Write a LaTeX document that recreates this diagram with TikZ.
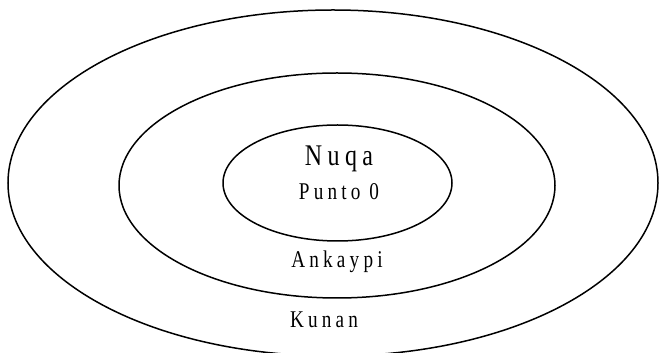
\documentclass[tikz,border=0pt]{standalone}
\usepackage{fontspec}
\setmainfont{Liberation Serif}[LetterSpace=17.5,FakeStretch=0.8]
\usepackage{tikz}

\begin{document}
\begin{tikzpicture}[x=1pt,y=1pt,line width=1.5pt,
  ringlabel/.style={anchor=base,inner sep=0pt,font=\fontsize{24}{26}\selectfont}]
\useasboundingbox (0,0) rectangle (659,353);
\draw (333,170) ellipse (325 and 173);
\draw (337,167.5) ellipse (218 and 112.5);
\draw (337.5,170) ellipse (114.5 and 58);
\node[ringlabel,font=\fontsize{30}{32}\selectfont\addfontfeature{LetterSpace=18}] (nuqa) at (339,187) {Nuqa};
\node[ringlabel] (punto) at (339,153) {Punto 0};
\node[ringlabel] (ankaypi) at (337,85) {Ankaypi};
\node[ringlabel] (kunan) at (324,25) {Kunan};
\end{tikzpicture}
\end{document}
